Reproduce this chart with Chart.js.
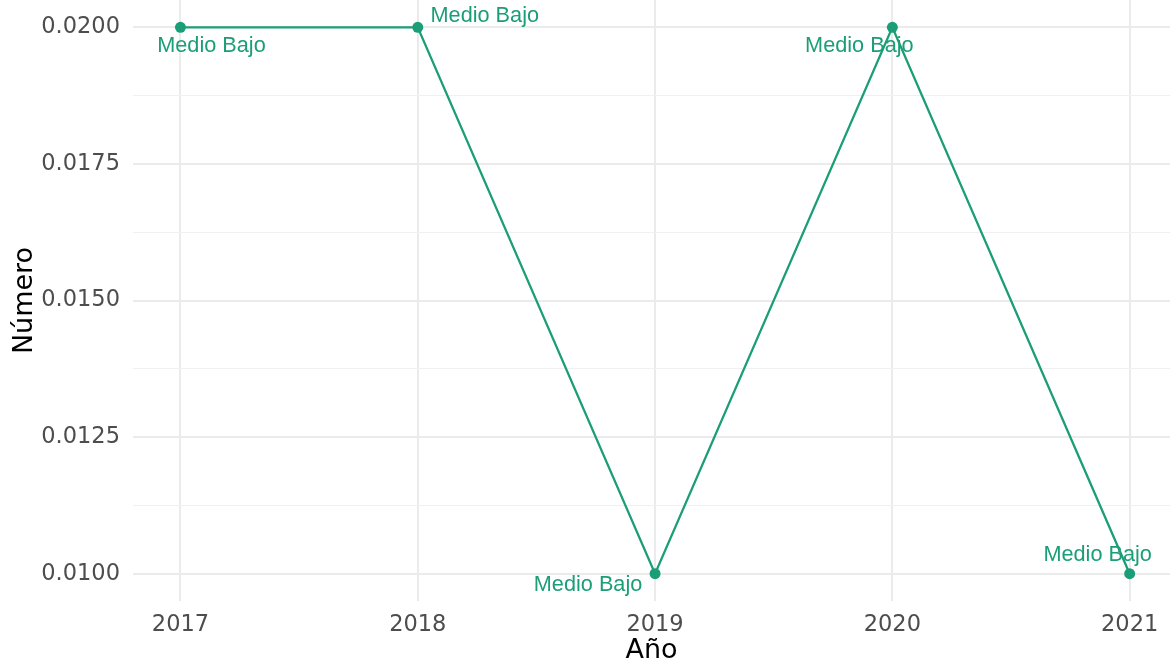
<!DOCTYPE html>
<html>
<head>
<meta charset="utf-8">
<script src="https://cdn.jsdelivr.net/npm/chart.js@4"></script>
<style>
  body { margin: 0; background: #fff; }
  canvas { display: block; }
</style>
</head>
<body>
<canvas id="lineChart" width="1170" height="667"></canvas>
<script>
const years = [2017, 2018, 2019, 2020, 2021];
const values = [0.02, 0.02, 0.01, 0.02, 0.01];
const pointLabels = ['Medio Bajo', 'Medio Bajo', 'Medio Bajo', 'Medio Bajo', 'Medio Bajo'];
const yTicks = [0.0100, 0.0125, 0.0150, 0.0175, 0.0200];

const green = '#1B9E77';

// where each label sits relative to its point (repelled like in the original)
const labelOffsets = [[31, 19], [67, -11], [-67, 11], [-33, 19], [-32, -19]];

const labelPlugin = {
  id: 'pointText',
  afterDatasetsDraw(chart) {
    const meta = chart.getDatasetMeta(0);
    const c = chart.ctx;
    c.save();
    c.font = '21.7px "Liberation Sans", Arial, sans-serif';
    c.fillStyle = green;
    c.textAlign = 'center';
    c.textBaseline = 'middle';
    meta.data.forEach((pt, i) => {
      c.fillText(pointLabels[i], pt.x + labelOffsets[i][0], pt.y + labelOffsets[i][1]);
    });
    c.restore();
  }
};

const isMajor = v => yTicks.some(t => Math.abs(t - v) < 1e-9);

const ctx = document.getElementById('lineChart').getContext('2d');
const lineChart = new Chart(ctx, {
  type: 'line',
  data: {
    datasets: [{
      data: years.map((y, i) => ({ x: y, y: values[i] })),
      borderColor: green,
      backgroundColor: green,
      borderWidth: 2.3,
      pointRadius: 5.5,
      pointHoverRadius: 5.5,
      pointBorderWidth: 0,
      tension: 0,
      clip: false
    }]
  },
  options: {
    responsive: false,
    animation: false,
    layout: { padding: 0, autoPadding: false },
    plugins: {
      legend: { display: false },
      tooltip: { enabled: false }
    },
    scales: {
      x: {
        type: 'linear',
        min: 2016.8,
        max: 2021.17,
        afterBuildTicks: s => { s.ticks = years.map(v => ({ value: v })); },
        afterFit: s => { s.height = 66; s.paddingLeft = 0; s.paddingRight = 0; },
        border: { display: false },
        grid: { color: '#EBEBEB', lineWidth: 2, drawTicks: false },
        ticks: {
          padding: 11,
          color: '#4D4D4D',
          font: { family: '"DejaVu Sans"', size: 22.5 },
          callback: v => String(v),
          maxRotation: 0
        },
        title: {
          display: true,
          text: 'Año',
          color: '#000',
          font: { family: '"DejaVu Sans"', size: 27 },
          padding: { top: 0, bottom: 0 }
        }
      },
      y: {
        min: 0.0095,
        max: 0.0205,
        afterBuildTicks: s => {
          const t = [];
          yTicks.forEach((v, i) => {
            t.push({ value: v });
            if (i < yTicks.length - 1) t.push({ value: (v + yTicks[i + 1]) / 2 });
          });
          s.ticks = t;
        },
        afterFit: s => { s.width = 133; s.paddingTop = 0; s.paddingBottom = 0; },
        border: { display: false },
        grid: {
          drawTicks: false,
          color: c => isMajor(c.tick.value) ? '#EBEBEB' : '#F0F0F0',
          lineWidth: c => isMajor(c.tick.value) ? 2 : 1
        },
        ticks: {
          padding: 13,
          color: '#4D4D4D',
          font: { family: '"DejaVu Sans"', size: 22.5 },
          callback: v => isMajor(v) ? v.toFixed(4) : ''
        },
        title: {
          display: true,
          text: 'Número',
          color: '#000',
          font: { family: '"DejaVu Sans"', size: 27 },
          padding: { top: 9, bottom: 0 }
        }
      }
    }
  },
  plugins: [labelPlugin]
});
</script>
</body>
</html>
